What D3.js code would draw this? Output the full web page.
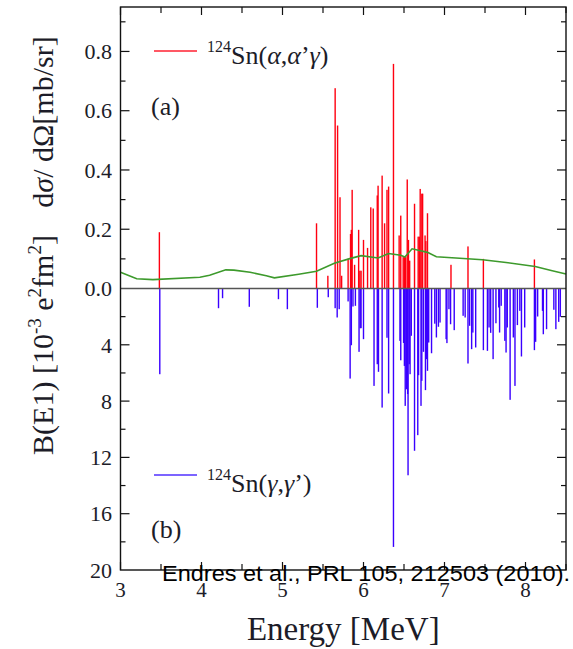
<!DOCTYPE html>
<html>
<head>
<meta charset="utf-8">
<script src="https://cdn.jsdelivr.net/npm/d3@7/dist/d3.min.js"></script>
<style>
  body { margin: 0; background: #fff; }
  svg { display: block; }
  .serif { font-family: "Liberation Serif", "DejaVu Serif", serif; fill: #1c1c28; }
</style>
</head>
<body>
<div id="chart"></div>
<script>
// (alpha,alpha'gamma) cross sections [mb/sr]
const alphaE = [3.48, 5.42, 5.56, 5.65, 5.68, 5.71, 5.73, 5.81, 5.84, 5.85, 5.86, 5.89, 5.94, 5.955, 5.97,
  6.00, 6.05, 6.09, 6.12, 6.17, 6.18, 6.23, 6.26, 6.29, 6.31, 6.37, 6.44, 6.46, 6.49, 6.505, 6.52, 6.54,
  6.555, 6.57, 6.63, 6.675, 6.69, 6.70, 6.72, 6.73, 6.76, 6.77, 6.79, 7.08, 7.29, 7.48, 8.11];
const alphaV = [0.19, 0.22, 0.043, 0.676, 0.55, 0.308, 0.043, 0.10, 0.184, 0.198, 0.333, 0.08, 0.198, 0.06, 0.06,
  0.164, 0.137, 0.274, 0.27, 0.314, 0.347, 0.381, 0.22, 0.333, 0.344, 0.758, 0.179, 0.246, 0.106, 0.106, 0.106, 0.368,
  0.164, 0.094, 0.286, 0.175, 0.175, 0.336, 0.32, 0.32, 0.179, 0.16, 0.254, 0.08, 0.142, 0.10, 0.098];

// (gamma,gamma') B(E1) strengths [10^-3 e^2 fm^2]
const gammaE = [3.485, 4.21, 4.26, 4.59, 4.95, 5.06, 5.43, 5.565, 5.65, 5.675, 5.70, 5.81, 5.835, 5.85, 5.87,
  5.90, 5.945, 5.96, 5.97, 6.00, 6.13, 6.17, 6.185, 6.23, 6.29, 6.31, 6.37, 6.45, 6.46, 6.495, 6.505, 6.515,
  6.53, 6.545, 6.55, 6.565, 6.575, 6.59, 6.63, 6.67, 6.68, 6.71, 6.72, 6.74, 6.765, 6.78, 6.79, 6.805, 6.84,
  6.88, 6.90, 6.925, 6.945, 7.02, 7.03, 7.055, 7.075, 7.12, 7.23, 7.255, 7.29, 7.31, 7.335, 7.35, 7.385,
  7.48, 7.53, 7.55, 7.57, 7.60, 7.635, 7.67, 7.68, 7.70, 7.745, 7.76, 7.775, 7.81, 7.85, 7.87, 7.90, 7.93,
  7.95, 7.99, 8.11, 8.125, 8.15, 8.21, 8.22, 8.26, 8.35, 8.375, 8.41, 8.43];
const gammaV = [6.09, 1.4, 0.69, 1.3, 0.76, 1.47, 1.37, 0.62, 1.4, 2.06, 1.47, 0.92, 6.4, 4.03, 1.28,
  1.23, 4.5, 2.82, 2.82, 3.6, 6.92, 5.38, 5.92, 8.46, 3.5, 7.46, 18.36, 3.72, 5.1, 3.87, 5.5, 8.34,
  7.16, 7.5, 13.27, 5.38, 6.09, 3.36, 11.53, 10.42, 6.16, 8.34, 6.56, 4.5, 7.22, 5.02, 5.85, 3.84, 4.6,
  2.5, 3.48, 2.72, 2.42, 3.6, 3.88, 1.47, 2.54, 2.96, 1.94, 2.06, 5.33, 2.65, 4.31, 3.13, 4.19,
  4.38, 4.43, 2.77, 3.15, 5.02, 2.47, 1.35, 3.13, 1.23, 3.72, 4.55, 2.77, 7.91, 3.48, 6.92, 2.6, 1.59,
  4.83, 2.77, 4.38, 3.79, 1.99, 1.59, 3.25, 2.89, 1.51, 2.89, 2.37, 2.01];

// green curve (detection limit)
const limitE = [3.0, 3.2, 3.4, 3.98, 4.1, 4.3, 4.4, 4.6, 4.8, 4.9, 5.2, 5.42, 5.64, 5.82, 5.97, 6.18, 6.31,
  6.46, 6.51, 6.6, 6.69, 6.79, 6.9, 7.14, 7.47, 7.76, 8.12, 8.33, 8.5];
const limitV = [0.055, 0.033, 0.030, 0.038, 0.045, 0.063, 0.062, 0.055, 0.043, 0.036, 0.048, 0.058, 0.085, 0.10,
  0.111, 0.103, 0.118, 0.112, 0.106, 0.134, 0.128, 0.122, 0.107, 0.103, 0.097, 0.088, 0.074, 0.06, 0.049];

const xTicks = [3, 4, 5, 6, 7, 8];
const topTicks = [0.0, 0.2, 0.4, 0.6, 0.8];
const botTicks = [4, 8, 12, 16, 20];

const W = 573, H = 649;
const pLeft = 120.5, pRight = 566, pTop = 7, pZero = 288.5, pBottom = 570;

const svg = d3.select('#chart').append('svg').attr('width', W).attr('height', H);

const x = d3.scaleLinear().domain([3, 8.5]).range([pLeft, pRight]);
const yTop = d3.scaleLinear().domain([0, 0.95]).range([pZero, pTop]);
const yBot = d3.scaleLinear().domain([0, 20]).range([pZero, pBottom]);

// bars
const alpha = alphaE.map((e, i) => ({ e, v: alphaV[i] }));
const gamma = gammaE.map((e, i) => ({ e, v: gammaV[i] }));

svg.append('g')
  .selectAll('rect')
  .data(alpha)
  .join('rect')
  .attr('x', (d) => x(d.e) - 0.7)
  .attr('y', (d) => yTop(d.v))
  .attr('width', 1.4)
  .attr('height', (d) => pZero - yTop(d.v))
  .attr('fill', '#ff0010');

svg.append('g')
  .selectAll('rect')
  .data(gamma)
  .join('rect')
  .attr('x', (d) => x(d.e) - 0.7)
  .attr('y', pZero)
  .attr('width', 1.4)
  .attr('height', (d) => yBot(d.v) - pZero)
  .attr('fill', '#3a00ff');

// green curve
const line = d3.line()
  .x((d, i) => x(limitE[i]))
  .y((d) => yTop(d));
svg.append('path')
  .datum(limitV)
  .attr('d', line)
  .attr('fill', 'none')
  .attr('stroke', '#3d9a2c')
  .attr('stroke-width', 1.6);

// zero line
svg.append('line')
  .attr('x1', pLeft).attr('x2', pRight)
  .attr('y1', pZero).attr('y2', pZero)
  .attr('stroke', '#555').attr('stroke-width', 1.5);

// ticks
const tk = svg.append('g').attr('stroke', '#111').attr('stroke-width', 1.2);
d3.range(3, 8.51, 0.5).forEach((e) => {
  const len = Number.isInteger(e) ? 8 : 6;
  tk.append('line').attr('x1', x(e)).attr('x2', x(e)).attr('y1', pTop).attr('y2', pTop + len);
  tk.append('line').attr('x1', x(e)).attr('x2', x(e)).attr('y1', pBottom).attr('y2', pBottom - len);
});
d3.range(0.1, 0.95, 0.1).forEach((v, i) => {
  const len = i % 2 === 1 ? 9 : 5;
  tk.append('line').attr('x1', pLeft).attr('x2', pLeft + len).attr('y1', yTop(v)).attr('y2', yTop(v));
  tk.append('line').attr('x1', pRight).attr('x2', pRight - len).attr('y1', yTop(v)).attr('y2', yTop(v));
});
d3.range(2, 20, 2).forEach((v) => {
  const len = v % 4 === 0 ? 9 : 5;
  tk.append('line').attr('x1', pLeft).attr('x2', pLeft + len).attr('y1', yBot(v)).attr('y2', yBot(v));
  tk.append('line').attr('x1', pRight).attr('x2', pRight - len).attr('y1', yBot(v)).attr('y2', yBot(v));
});

// frame
svg.append('rect')
  .attr('x', pLeft).attr('y', pTop)
  .attr('width', pRight - pLeft).attr('height', pBottom - pTop)
  .attr('fill', 'none').attr('stroke', '#111').attr('stroke-width', 1.4);

// tick labels
svg.append('g')
  .selectAll('text')
  .data(topTicks)
  .join('text')
  .attr('class', 'serif')
  .attr('x', 112)
  .attr('y', (d) => yTop(d))
  .attr('dy', '0.35em')
  .attr('text-anchor', 'end')
  .style('font-size', '22px')
  .text((d) => d.toFixed(1));

svg.append('g')
  .selectAll('text')
  .data(botTicks)
  .join('text')
  .attr('class', 'serif')
  .attr('x', 112)
  .attr('y', (d) => yBot(d))
  .attr('dy', '0.35em')
  .attr('text-anchor', 'end')
  .style('font-size', '22px')
  .text((d) => d);

svg.append('g')
  .selectAll('text')
  .data(xTicks)
  .join('text')
  .attr('class', 'serif')
  .attr('x', (d) => x(d))
  .attr('y', 597)
  .attr('text-anchor', 'middle')
  .style('font-size', '21px')
  .text((d) => d);

// axis titles
svg.append('text')
  .attr('class', 'serif')
  .attr('x', (pLeft + pRight) / 2)
  .attr('y', 640)
  .attr('text-anchor', 'middle')
  .style('font-size', '33px')
  .text('Energy [MeV]');

const yl1 = svg.append('text')
  .attr('class', 'serif')
  .attr('transform', 'translate(53,122) rotate(-90)')
  .attr('text-anchor', 'middle')
  .style('font-size', '30px');
yl1.append('tspan').text('d');
yl1.append('tspan').style('font-style', 'italic').text('σ');
yl1.append('tspan').text('/ dΩ[mb/sr]');

const yl2 = svg.append('text')
  .attr('class', 'serif')
  .attr('transform', 'translate(53,345) rotate(-90)')
  .attr('text-anchor', 'middle')
  .style('font-size', '30px');
yl2.append('tspan').text('B(E1) [10');
yl2.append('tspan').attr('dy', -12).style('font-size', '19px').text('-3');
yl2.append('tspan').attr('dy', 12).text(' e');
yl2.append('tspan').attr('dy', -12).style('font-size', '19px').text('2');
yl2.append('tspan').attr('dy', 12).text('fm');
yl2.append('tspan').attr('dy', -12).style('font-size', '19px').text('2');
yl2.append('tspan').attr('dy', 12).text(']');

// legends
function legend(y, base, color, inner) {
  svg.append('line')
    .attr('x1', 154).attr('x2', 197).attr('y1', y).attr('y2', y)
    .attr('stroke', color).attr('stroke-width', 1.5);
  const t = svg.append('text').attr('class', 'serif').attr('x', 207).attr('y', base).style('font-size', '26px');
  t.append('tspan').attr('dy', -12).style('font-size', '16px').text('124');
  t.append('tspan').attr('dy', 12).text('Sn(');
  inner.forEach((p) => {
    t.append('tspan').style('font-style', p[1] ? 'italic' : 'normal').text(p[0]);
  });
  t.append('tspan').text(')');
}
legend(51, 64, '#ff2030', [['α', 1], [',', 0], ['α', 1], ['’', 0], ['γ', 1]]);
legend(475, 492, '#5030ff', [['γ', 1], [',', 0], ['γ', 1], ['’', 0]]);

svg.append('text').attr('class', 'serif').attr('x', 151).attr('y', 115).style('font-size', '26px').text('(a)');
svg.append('text').attr('class', 'serif').attr('x', 151).attr('y', 538).style('font-size', '26px').text('(b)');

// citation
svg.append('text')
  .attr('x', 162)
  .attr('y', 581)
  .attr('textLength', 408)
  .attr('lengthAdjust', 'spacingAndGlyphs')
  .style('font-family', '"Liberation Sans", Arial, sans-serif')
  .style('font-size', '22px')
  .style('fill', '#000')
  .text('Endres et al., PRL 105, 212503 (2010).');
</script>
</body>
</html>
